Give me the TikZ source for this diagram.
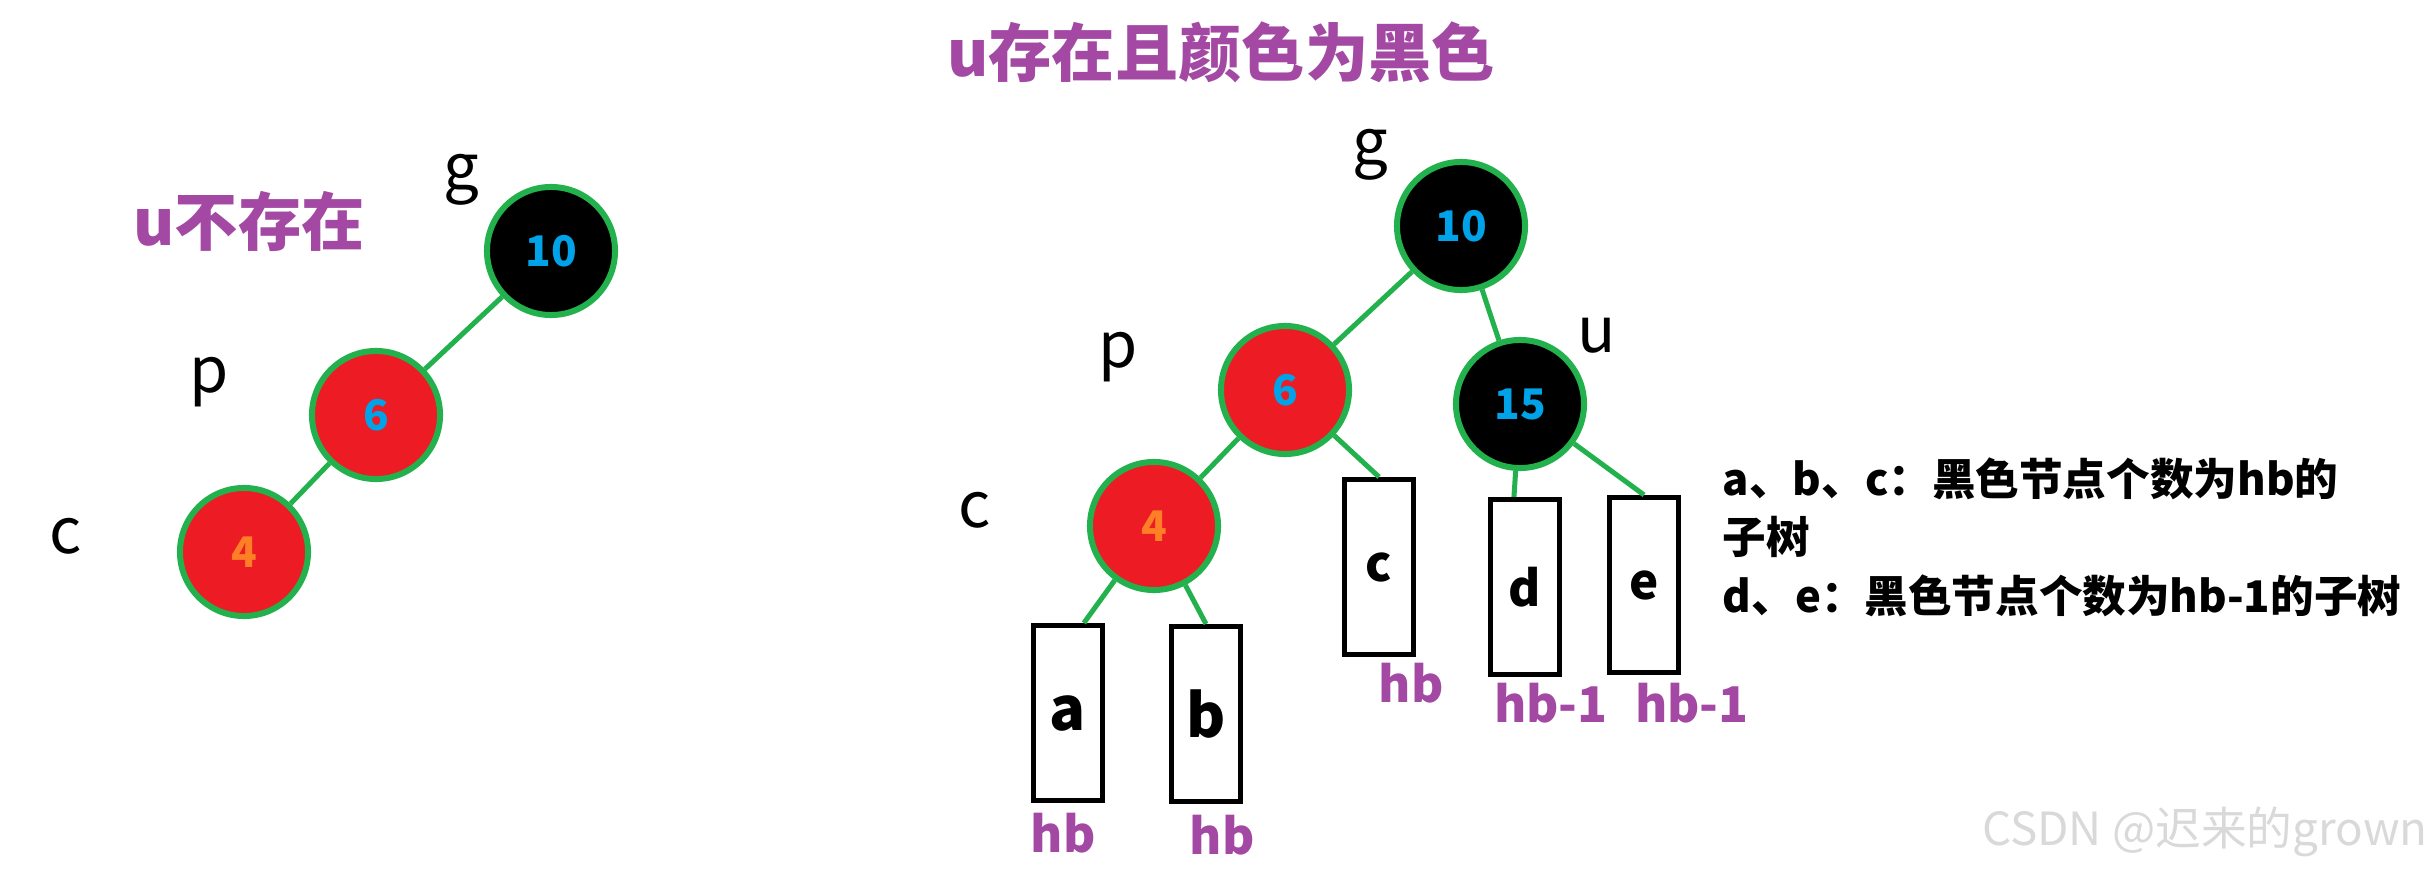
\documentclass[tikz,border=0pt]{standalone}
\usepackage{fontspec}
\setmainfont{Noto Sans CJK SC}
\usetikzlibrary{positioning}

\definecolor{rbgreen}{HTML}{22B14C}
\definecolor{rbred}{HTML}{ED1C24}
\definecolor{numblue}{HTML}{00A2E8}
\definecolor{numorange}{HTML}{FF7F27}
\definecolor{notepurple}{HTML}{A349A4}

\begin{document}
\begin{tikzpicture}[
        x=0.01cm, y=-0.01cm,
        rbnode/.style={circle, draw=rbgreen, line width=0.06cm, minimum size=1.28cm, inner sep=0pt, text=numblue, font=\bfseries\fontsize{12}{12}\selectfont},
        rednode/.style={rbnode, fill=rbred},
        blacknode/.style={rbnode, fill=black},
        link/.style={rbgreen, line width=0.05cm},
        subtree/.style={draw, line width=0.05cm, minimum width=0.69cm, minimum height=1.75cm, inner sep=0pt, font=\bfseries\fontsize{14}{14}\selectfont},
        nodetag/.style={anchor=base, font=\fontsize{18}{18}\selectfont},
        hblabel/.style={text=notepurple, font=\bfseries\fontsize{14}{14}\selectfont},
        heading/.style={text=notepurple, font=\bfseries\fontsize{18}{18}\selectfont},
    ]
        \useasboundingbox (0,0) rectangle (2430,870);

        % Case 1: u missing
        \node[heading] (head1) at (249,221) {u不存在};
        \node[blacknode] (lg) at (551,251) {10};
        \node[rednode] (lp) at (376,415) {6};
        \node[rednode, text=numorange] (lc) at (244,552) {4};
        \draw[link] (lg) -- (lp);
        \draw[link] (lp) -- (lc);
        \node[nodetag] (lgname) at (461,190) {g};
        \node[nodetag] (lpname) at (209,393) {p};
        \node[nodetag] (lcname) at (66,553) {c};

        % Case 2: u black
        \node[heading] (head2) at (1221,52) {u存在且颜色为黑色};
        \node[blacknode] (g) at (1461,226) {10};
        \node[rednode] (p) at (1285,390) {6};
        \node[blacknode] (u) at (1520,404) {15};
        \node[rednode, text=numorange] (c) at (1154,526) {4};
        \node[nodetag] (gname) at (1370,165) {g};
        \node[nodetag] (pname) at (1118,367) {p};
        \node[nodetag] (uname) at (1597,353) {u};
        \node[nodetag] (cname) at (975,527) {c};

        % Subtrees
        \node[subtree, font=\bfseries\fontsize{17}{17}\selectfont] (ta) at (1068,713) {a};
        \node[subtree, font=\bfseries\fontsize{17}{17}\selectfont] (tb) at (1206,714) {b};
        \node[subtree] (tc) at (1379,567) {c};
        \node[subtree] (td) at (1525,587) {d};
        \node[subtree] (te) at (1644,585) {e};

        \draw[link] (g) -- (p);
        \draw[link] (g) -- (u);
        \draw[link] (p) -- (c);
        \draw[link] (p) -- (tc.north);
        \draw[link] (c) -- (ta.80);
        \draw[link] (c) -- (tb.north);
        \draw[link] (u) -- (td.97);
        \draw[link] (u) -- (te.north);

        % Black heights
        \node[hblabel] (ha) at (1063,833) {hb};
        \node[hblabel] (hb) at (1222,835) {hb};
        \node[hblabel] (hc) at (1411,683) {hb};
        \node[hblabel] (hd) at (1551,703) {hb-1};
        \node[hblabel] (he) at (1692,703) {hb-1};

        % Note
        \node[anchor=west, align=left, inner sep=0pt, font=\bfseries\fontsize{12.4}{16.6}\selectfont] (note) at (1722,537)
            {a、b、c：黑色节点个数为hb的\\子树\\d、e：黑色节点个数为hb-1的子树};

        \node[text=gray!30, font=\fontsize{13}{13}\selectfont] (mark) at (2205,832) {CSDN @迟来的grown};
    \end{tikzpicture}
\end{document}
